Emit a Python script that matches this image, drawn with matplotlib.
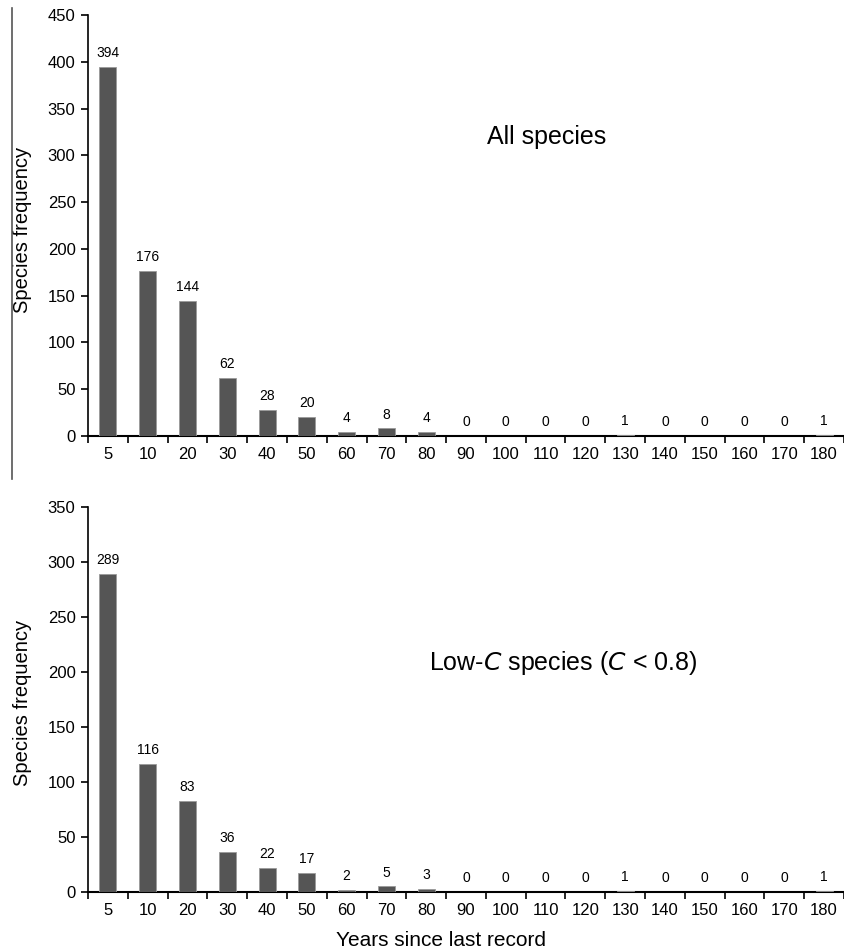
import matplotlib.pyplot as plt
from matplotlib.lines import Line2D
import numpy as np

plt.rcParams['font.family'] = ['Liberation Sans', 'DejaVu Sans']

years = ['5', '10', '20', '30', '40', '50', '60', '70', '80', '90', '100',
         '110', '120', '130', '140', '150', '160', '170', '180']
all_species = [394, 176, 144, 62, 28, 20, 4, 8, 4, 0, 0, 0, 0, 1, 0, 0, 0, 0, 1]
low_c_species = [289, 116, 83, 36, 22, 17, 2, 5, 3, 0, 0, 0, 0, 1, 0, 0, 0, 0, 1]

bar_color = '#555555'

fig = plt.figure(figsize=(8.44, 9.49), dpi=100)
ax1 = fig.add_axes([0.1043, 0.5406, 0.8957, 0.4436])
ax2 = fig.add_axes([0.1043, 0.0601, 0.8957, 0.4057])


def draw_panel(ax, values, ymax, label, label_xy):
    x = np.arange(len(years))
    bars = ax.bar(x, values, width=0.43, color=bar_color,
                  edgecolor='#9a9a9a', linewidth=0.6, zorder=3)
    for b, v in zip(bars, values):
        ax.annotate(str(v), (b.get_x() + b.get_width() / 2, v),
                    xytext=(0, 5), textcoords='offset points',
                    ha='center', va='bottom', fontsize=10)
    ax.set_xlim(-0.5, len(years) - 0.5)
    ax.set_ylim(0, ymax)
    ax.set_yticks(np.arange(0, ymax + 1, 50))
    ax.set_xticks(x)
    ax.set_xticklabels(years, fontsize=12)
    ax.set_xticks(np.arange(-0.5, len(years), 1), minor=True)
    ax.tick_params(axis='x', which='major', length=0, pad=8)
    ax.tick_params(axis='x', which='minor', length=5, width=1.2, direction='out')
    ax.tick_params(axis='y', labelsize=12, length=5, width=1.2, pad=4)
    for s in ['top', 'right']:
        ax.spines[s].set_visible(False)
    ax.spines['left'].set_linewidth(1.2)
    ax.spines['bottom'].set_linewidth(1.5)
    ax.set_ylabel('Species frequency', fontsize=14.5)
    ax.yaxis.set_label_coords(-0.074, 0.49)
    ax.text(label_xy[0], label_xy[1], label, transform=ax.transAxes,
            ha='center', va='center', fontsize=18)


draw_panel(ax1, all_species, 450, 'All species', (0.606, 0.71))
draw_panel(ax2, low_c_species, 350, r'Low-$\mathit{C}$ species ($\mathit{C}$ < 0.8)',
           (0.628, 0.595))
ax2.set_xlabel('Years since last record', fontsize=15)
ax2.xaxis.set_label_coords(0.467, -0.102)

# thin border line at the left edge of the upper panel
fig.add_artist(Line2D([0.0142, 0.0142], [1 - 8 / 949, 1 - 479 / 949],
                      transform=fig.transFigure, color='#555555', lw=1.2))

fig.savefig('out.png', dpi=100)
